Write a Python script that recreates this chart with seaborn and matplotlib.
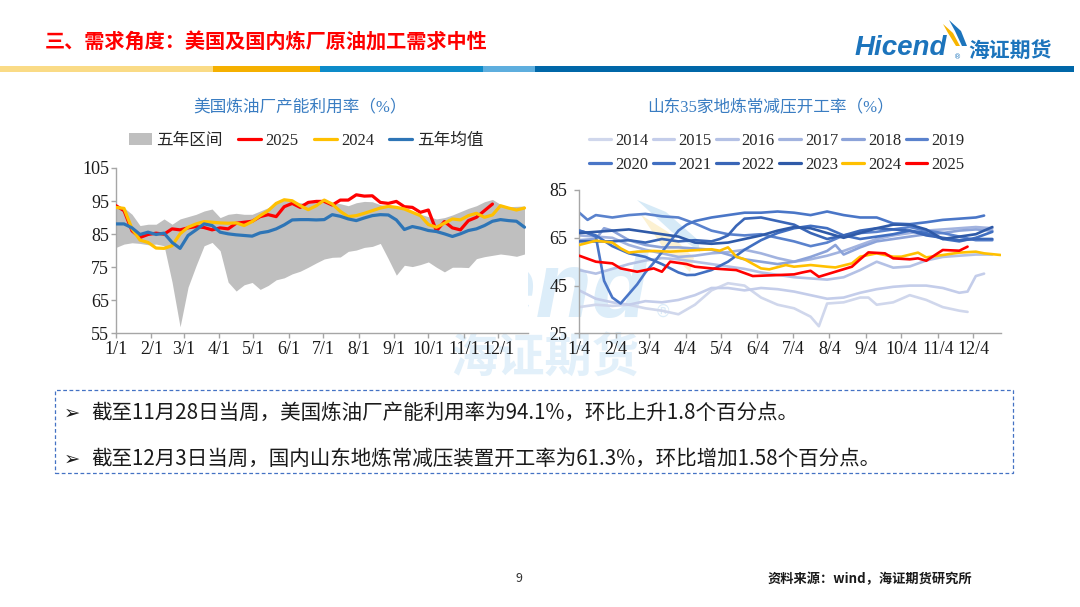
import matplotlib
matplotlib.use('Agg')
import matplotlib.pyplot as plt
from matplotlib.patches import Rectangle, Polygon, Patch
from matplotlib.lines import Line2D
from matplotlib.font_manager import FontProperties
import seaborn as sns

# ---------------- data: US refinery utilization (weekly, %) ----------------
us_weeks = list(range(52))
us_upper = [93.4, 93.0, 91.0, 87.6, 88.0, 88.0, 89.6, 88.0, 89.6, 90.3,
            91.0, 92.0, 92.6, 90.0, 91.0, 91.3, 91.0, 91.0, 92.0, 93.0,
            94.6, 95.2, 95.0, 94.5, 94.3, 94.8, 95.3, 94.6, 94.2, 93.6,
            94.5, 94.9, 94.8, 93.9, 93.6, 92.9, 92.6, 92.0, 91.0, 90.3,
            89.6, 90.0, 90.8, 91.8, 92.8, 93.6, 94.8, 95.5, 94.0, 93.3,
            93.4, 93.5]
us_lower = [81.0, 82.0, 82.4, 82.2, 81.8, 82.0, 81.5, 70.5, 57.0, 69.0,
            75.5, 81.5, 82.5, 80.0, 70.5, 67.8, 69.7, 70.4, 68.3, 69.5,
            71.2, 71.8, 73.0, 73.8, 75.0, 76.3, 77.5, 78.0, 78.1, 79.8,
            80.2, 81.0, 81.3, 82.2, 77.5, 72.6, 75.6, 75.2, 75.8, 76.6,
            75.0, 73.6, 75.0, 75.0, 74.9, 77.6, 78.2, 78.6, 79.0, 78.7,
            78.3, 79.0]
us_2025 = [93.6, 92.1, 86.0, 84.0, 84.9, 85.3, 85.0, 86.6, 86.3, 86.9,
           87.3, 87.0, 86.3, 86.9, 86.6, 88.3, 88.6, 88.9, 90.3, 90.9,
           90.3, 93.3, 94.3, 93.1, 94.6, 94.9, 94.9, 93.8, 95.3, 95.3,
           96.9, 96.5, 96.6, 94.6, 94.3, 94.9, 93.3, 93.1, 91.6, 92.3,
           86.0, 88.8, 86.9, 86.3, 89.1, 90.1, 92.1, 94.1]
us_2024 = [93.1, 92.8, 86.6, 83.2, 82.5, 80.8, 80.7, 81.5, 85.1, 87.1,
           88.1, 88.8, 88.6, 88.4, 88.3, 88.4, 87.6, 88.8, 90.6, 92.1,
           94.3, 95.4, 95.1, 93.6, 92.4, 93.6, 95.3, 94.1, 91.9, 90.3,
           90.6, 91.3, 92.1, 92.9, 93.4, 93.1, 92.6, 91.6, 90.6, 87.9,
           87.1, 88.3, 89.6, 89.3, 90.6, 91.3, 90.1, 90.8, 93.6, 92.9,
           92.3, 92.9]
us_mean = [88.1, 88.1, 86.9, 84.9, 85.6, 84.9, 85.3, 82.5, 80.7, 84.6,
           86.3, 88.1, 87.6, 85.6, 85.1, 84.8, 84.6, 84.4, 85.4, 85.8,
           86.6, 87.8, 89.3, 89.4, 89.4, 89.3, 89.4, 90.9, 90.4, 89.6,
           89.1, 89.9, 90.6, 90.9, 90.8, 89.3, 86.4, 87.3, 86.8, 86.1,
           85.8, 85.1, 84.3, 85.1, 86.1, 86.6, 87.6, 88.9, 89.4, 89.1,
           88.9, 87.1]
us_tick_labels = ['1/1', '2/1', '3/1', '4/1', '5/1', '6/1', '7/1', '8/1',
                  '9/1', '10/1', '11/1', '12/1']

# ---------------- data: Shandong independent refineries (weekly, %) --------
sd_even_w = list(range(0, 51, 2))
sd_2014_w = [0, 2, 4, 6, 8, 10, 12, 14, 16, 18, 20, 22, 24, 26, 28, 29, 30, 32,
             34, 35, 36, 38, 40, 42, 44, 46, 47]
sd_2014_v = [36, 37, 36.5, 37, 35.5, 34.5, 33, 37, 43, 46, 45, 40, 37, 35.5, 32,
             28, 37.5, 38, 40, 40, 37, 38, 41, 39, 36, 34.5, 34]
sd_2015_w = [0, 2, 4, 6, 8, 10, 12, 14, 16, 18, 20, 22, 24, 26, 28, 30, 32, 34,
             36, 38, 40, 42, 44, 46, 47, 48, 49]
sd_2015_v = [43, 39.5, 38, 37, 38.5, 38, 39, 41, 44, 44, 43, 44, 43.5, 42.5, 41,
             39.5, 40, 42, 43.5, 44.5, 45, 45, 44, 42, 42.5, 49, 50]
sd_2016_v = [51.5, 50, 52, 54, 55.5, 56.5, 56, 55, 54, 53, 52, 50.5, 49.5, 48.5,
             48, 47.5, 48.5, 51.5, 55, 52.5, 53, 55.5, 57, 57.5, 58, 58]
sd_2017_v = [66, 65.5, 65, 62, 60, 58.5, 57, 57.5, 58.5, 59, 60, 58.5, 56.5, 55,
             56, 57.5, 59.5, 62, 64.5, 66, 67, 68, 68.5, 69, 69.5, 69]
sd_2018_w = [0, 2, 3, 4, 6, 8, 10, 12, 14, 16, 18, 20, 22, 24, 26, 28, 30, 31,
             32, 34, 36, 38, 40, 42, 44, 46, 48, 50]
sd_2018_v = [64, 64.5, 69, 68, 64, 62, 61, 61, 60.5, 60, 58, 56, 55, 54, 55, 57,
             59.5, 62, 58, 61, 63.5, 64.5, 65.5, 66.5, 67, 68, 68.5, 68]
sd_2019_w = [0, 1, 2, 4, 6, 8, 10, 12, 14, 16, 18, 20, 22, 24, 26, 28, 30, 32,
             34, 36, 38, 40, 42, 44, 46, 48, 50]
sd_2019_v = [75.5, 72.5, 74.5, 73.5, 74.5, 75, 74, 73.5, 71, 68, 66.5, 66, 66.5,
             65, 63.5, 61.5, 63, 66, 67, 67.5, 68.5, 69.5, 68, 67, 65.5, 64, 64]
sd_2020_w = [0, 1, 2, 3, 4, 5, 6, 7, 8, 9, 10, 11, 12, 13, 14, 16, 18, 20, 22,
             24, 26, 28, 30, 32, 34, 36, 38, 40, 42, 44, 46, 48, 49]
sd_2020_v = [68, 67, 65.5, 47, 40, 37.5, 41.5, 45.5, 50.5, 54.5, 59, 63.5, 68,
             70.5, 72, 73.5, 74.5, 75.5, 75.5, 76, 75.5, 74.5, 76, 74.5, 73.5,
             73.5, 71, 70.7, 71.5, 72.5, 73, 73.5, 74.3]
sd_2021_w = [0, 2, 4, 6, 8, 10, 12, 13, 14, 16, 18, 20, 22, 24, 26, 28, 30, 32,
             34, 36, 38, 40, 42, 44, 46, 48, 50]
sd_2021_v = [68, 66, 61.5, 58.5, 57, 54, 50.5, 49.4, 49.5, 51.5, 55, 60, 64, 67,
             69, 70, 69, 66, 64.5, 65.5, 66.5, 68, 67, 64.5, 63.5, 65, 67.5]
sd_2022_w = [0, 2, 4, 6, 8, 10, 12, 14, 16, 17, 18, 19, 20, 22, 24, 26, 28, 30,
             32, 34, 36, 38, 40, 42, 44, 46, 48, 50]
sd_2022_v = [63.5, 63.5, 63.5, 64, 63, 64.5, 63.5, 64, 63.5, 64.5, 66, 70, 73,
             73.5, 72, 70.5, 67, 64.5, 66, 68, 69, 68.5, 68, 66, 65, 64, 64.5, 64.5]
sd_2023_v = [67, 67.5, 68, 68.5, 67.5, 66.5, 65.5, 63, 62.5, 63, 64.5, 66, 68,
             69.5, 69, 67, 65, 67, 69, 70.5, 70.5, 68.5, 64.5, 65.5, 66.5, 69.5]
sd_2024_w = [0, 2, 4, 5, 6, 7, 9, 11, 13, 16, 17, 18, 19, 20, 22, 23, 25, 26, 28,
             30, 31, 33, 34, 36, 38, 39, 41, 42, 44, 46, 48, 49, 51]
sd_2024_v = [62, 63.8, 63, 60.6, 58.8, 59.2, 59.5, 59.2, 59.6, 60.2, 59.6, 61,
             57.1, 56, 52.2, 51.8, 53.6, 52.9, 53.6, 52.9, 52.6, 54.3, 57.1, 58.5,
             57.1, 57.1, 58.8, 56.8, 57.8, 58.8, 59.2, 58.5, 57.8]
sd_2025_w = [0, 2, 4, 5, 7, 8, 9, 10, 11, 13, 14, 16, 19, 21, 24, 26, 27, 28, 29,
             31, 33, 34, 35, 37, 38, 40, 41, 42, 44, 46, 47]
sd_2025_v = [57.5, 55, 54.3, 52.2, 50.8, 51.5, 52.2, 50.8, 55, 54, 52.9, 52.2,
             51.5, 49, 49.4, 49.7, 50.5, 51.2, 48.7, 50.8, 52.9, 56, 58.9, 58.5,
             56.4, 56, 56.4, 55.4, 59.9, 59.6, 61.3]
sd_tick_labels = ['1/4', '2/4', '3/4', '4/4', '5/4', '6/4', '7/4', '8/4',
                  '9/4', '10/4', '11/4', '12/4']
month_day_offsets = [0, 31, 59, 90, 120, 151, 181, 212, 243, 273, 304, 334]

sd_series = [
    ('2014', sd_2014_w, sd_2014_v, '#D0D7EC'),
    ('2015', sd_2015_w, sd_2015_v, '#C4CDEA'),
    ('2016', sd_even_w, sd_2016_v, '#B4C1E5'),
    ('2017', sd_even_w, sd_2017_v, '#A2B3DF'),
    ('2018', sd_2018_w, sd_2018_v, '#8CA3D9'),
    ('2019', sd_2019_w, sd_2019_v, '#5A82CD'),
    ('2020', sd_2020_w, sd_2020_v, '#4A76C7'),
    ('2021', sd_2021_w, sd_2021_v, '#416FC1'),
    ('2022', sd_2022_w, sd_2022_v, '#3A66B7'),
    ('2023', sd_even_w, sd_2023_v, '#2F5AA8'),
    ('2024', sd_2024_w, sd_2024_v, '#FFC000'),
    ('2025', sd_2025_w, sd_2025_v, '#FF0000'),
]

# ---------------- style ----------------
sns.set_theme(style='white')
plt.rcParams['font.family'] = ['Noto Sans CJK SC', 'DejaVu Sans']
plt.rcParams['axes.unicode_minus'] = False

W, H = 1080, 607


def px(x):
    return x / W


def py(y):
    return 1 - y / H


fig = plt.figure(figsize=(10.8, 6.07), dpi=100)
fig.patch.set_facecolor('white')

# ---------------- watermark (behind charts) ----------------
wm = '#DCEDF9'
fig.text(px(648), py(317), 'Hicend', family='Liberation Sans', fontsize=66,
         fontweight='bold', fontstyle='italic', color=wm, ha='right',
         va='baseline', zorder=-3)
fig.text(px(663), py(312), '®', family='DejaVu Sans', fontsize=12, color=wm,
         ha='center', va='center', zorder=-3)
fig.text(px(545), py(358), '海证期货', fontsize=34, fontweight='bold',
         color='#E2F0FA', ha='center', va='center', zorder=-3)
fig.add_artist(Polygon([(px(637), py(200)), (px(666), py(212)), (px(698), py(240)),
                        (px(700), py(252)), (px(672), py(232))], closed=True,
                       transform=fig.transFigure, facecolor='#D6EAF7',
                       edgecolor='none', zorder=-3))
fig.add_artist(Polygon([(px(641), py(215)), (px(668), py(232)), (px(694), py(258)),
                        (px(690), py(272)), (px(662), py(246))], closed=True,
                       transform=fig.transFigure, facecolor='#FCF1D2',
                       edgecolor='none', zorder=-3))

# ---------------- header ----------------
fig.text(px(45), py(42), '三、需求角度：美国及国内炼厂原油加工需求中性',
         fontsize=14.5, fontweight='bold', color='#FF0000', ha='left', va='center')
for x0, x1, c in [(0, 213, '#FADB86'), (213, 320, '#F5B000'), (320, 483, '#0D8BC9'),
                  (483, 535, '#5EAEDE'), (535, 1074, '#0067A8')]:
    fig.add_artist(Rectangle((px(x0), py(72)), (x1 - x0) / W, 6 / H,
                             transform=fig.transFigure, facecolor=c,
                             edgecolor='none', lw=0))
logo_c = '#1C74BC'
fig.text(px(855), py(48), 'Hicend', family='Liberation Sans', fontsize=20,
         fontweight='bold', fontstyle='italic', color=logo_c, ha='left', va='center')
fig.text(px(954), py(57), '®', family='DejaVu Sans', fontsize=5, color=logo_c,
         ha='left', va='center')
fig.text(px(968), py(50), '海证期货', fontsize=15, fontweight='bold',
         color=logo_c, ha='left', va='center')
fig.add_artist(Polygon([(px(943), py(24)), (px(953), py(33)), (px(960), py(46)),
                        (px(956), py(46)), (px(948), py(33))], closed=True,
                       transform=fig.transFigure, facecolor='#F7B500', edgecolor='none'))
fig.add_artist(Polygon([(px(949), py(20)), (px(961), py(31)), (px(967), py(46)),
                        (px(962), py(46)), (px(955), py(31))], closed=True,
                       transform=fig.transFigure, facecolor=logo_c, edgecolor='none'))

# ---------------- common axis styling ----------------
spine_c = '#A6A6A6'
tick_font = 'Liberation Serif'
mixed_font = ['Liberation Serif', 'Noto Sans CJK SC']
title_c = '#3A7DC2'


def style_axis(ax, ypad):
    for s in ['top', 'right']:
        ax.spines[s].set_visible(False)
    for s in ['left', 'bottom']:
        ax.spines[s].set_color(spine_c)
        ax.spines[s].set_linewidth(1.0)
    ax.tick_params(axis='both', direction='out', length=3.5, width=1,
                   color=spine_c, labelsize=13, labelcolor='#1A1A1A',
                   labelfontfamily=tick_font, left=True, bottom=True)
    ax.tick_params(axis='x', pad=2)
    ax.tick_params(axis='y', pad=ypad)
    ax.set_xlabel('')
    ax.set_ylabel('')
    ax.grid(False)


# ---------------- left chart ----------------
axL = fig.add_axes([px(116), py(333.4), px(527.7) - px(116), (333.4 - 168) / H])
axL.set_facecolor('white')
axL.fill_between(us_weeks, us_lower, us_upper, color='#BFBFBF', lw=0, zorder=1)
sns.lineplot(x=list(range(len(us_2025))), y=us_2025, color='#FF0000', lw=2.3,
             ax=axL, legend=False, zorder=3)
sns.lineplot(x=us_weeks, y=us_2024, color='#FFC000', lw=2.3, ax=axL,
             legend=False, zorder=4)
sns.lineplot(x=us_weeks, y=us_mean, color='#2E75B6', lw=2.3, ax=axL,
             legend=False, zorder=5)
axL.set_xlim(0, 51.4)
axL.set_ylim(55, 105)
axL.set_yticks(list(range(55, 106, 10)))
axL.set_xticks([d / 7 for d in month_day_offsets])
axL.set_xticklabels(us_tick_labels)
style_axis(axL, ypad=1.5)

fig.text(px(300), py(108), '美国炼油厂产能利用率（%）', family=mixed_font,
         fontsize=12, color=title_c, ha='center', va='center')

handlesL = [Patch(facecolor='#BFBFBF', edgecolor='none', label='五年区间'),
            Line2D([], [], color='#FF0000', lw=2.3, label='2025'),
            Line2D([], [], color='#FFC000', lw=2.3, label='2024'),
            Line2D([], [], color='#2E75B6', lw=2.3, label='五年均值')]
legL = axL.legend(handles=handlesL, loc='center', bbox_to_anchor=(px(306), py(141)),
                  bbox_transform=fig.transFigure, ncol=4, frameon=False,
                  prop=FontProperties(family=mixed_font, size=12),
                  handlelength=1.4, handletextpad=0.25, columnspacing=0.9,
                  borderpad=0, borderaxespad=0)
for t in legL.get_texts():
    t.set_color('#262626')

# ---------------- right chart ----------------
axR = fig.add_axes([px(579.3), py(333.4), px(1000.6) - px(579.3), (333.4 - 190) / H])
axR.set_facecolor('none')
handlesR = {}
for i, (name, wk, vals, col) in enumerate(sd_series):
    sns.lineplot(x=wk, y=vals, color=col, lw=1.9, ax=axR, legend=False,
                 zorder=2 + i * 0.1)
    handlesR[name] = Line2D([], [], color=col, lw=2.3, label=name)
axR.set_xlim(0, 51)
axR.set_ylim(25, 85)
axR.set_yticks([25, 45, 65, 85])
axR.set_xticks([d / 7 for d in month_day_offsets])
axR.set_xticklabels(sd_tick_labels)
style_axis(axR, ypad=5)

fig.text(px(771), py(108), '山东35家地炼常减压开工率（%）', family=mixed_font,
         fontsize=12, color=title_c, ha='center', va='center')

row1 = ['2014', '2015', '2016', '2017', '2018', '2019']
row2 = ['2020', '2021', '2022', '2023', '2024', '2025']
ordered = []
for a, b in zip(row1, row2):
    ordered += [handlesR[a], handlesR[b]]
legR = axR.legend(handles=ordered, loc='center', bbox_to_anchor=(px(777), py(153)),
                  bbox_transform=fig.transFigure, ncol=6, frameon=False,
                  prop=FontProperties(family=mixed_font, size=12),
                  handlelength=1.3, handletextpad=0.25, columnspacing=0.25,
                  labelspacing=0.45, borderpad=0, borderaxespad=0)
for t in legR.get_texts():
    t.set_color('#262626')

# ---------------- text box ----------------
fig.add_artist(Rectangle((px(55), py(473)), (1013 - 55) / W, (473 - 390) / H,
                         transform=fig.transFigure, fill=False,
                         edgecolor='#4472C4', lw=0.9, linestyle=(0, (3, 2))))
notes = ['截至11月28日当周，美国炼油厂产能利用率为94.1%，环比上升1.8个百分点。',
         '截至12月3日当周，国内山东地炼常减压装置开工率为61.3%，环比增加1.58个百分点。']
for yy, txt in zip([413, 459], notes):
    fig.text(px(64), py(yy), '➢', family='DejaVu Sans', fontsize=14,
             color='#1A1A1A', ha='left', va='center')
    fig.text(px(91), py(yy), txt, fontsize=14.8, color='#1A1A1A',
             ha='left', va='center')

# ---------------- footer ----------------
fig.text(px(519), py(578), '9', fontsize=9, color='#333333', ha='center', va='center')
fig.text(px(768), py(579), '资料来源：wind，海证期货研究所', fontsize=9.5,
         fontweight='bold', color='#1A1A1A', ha='left', va='center')

fig.savefig('out.png', dpi=100)
